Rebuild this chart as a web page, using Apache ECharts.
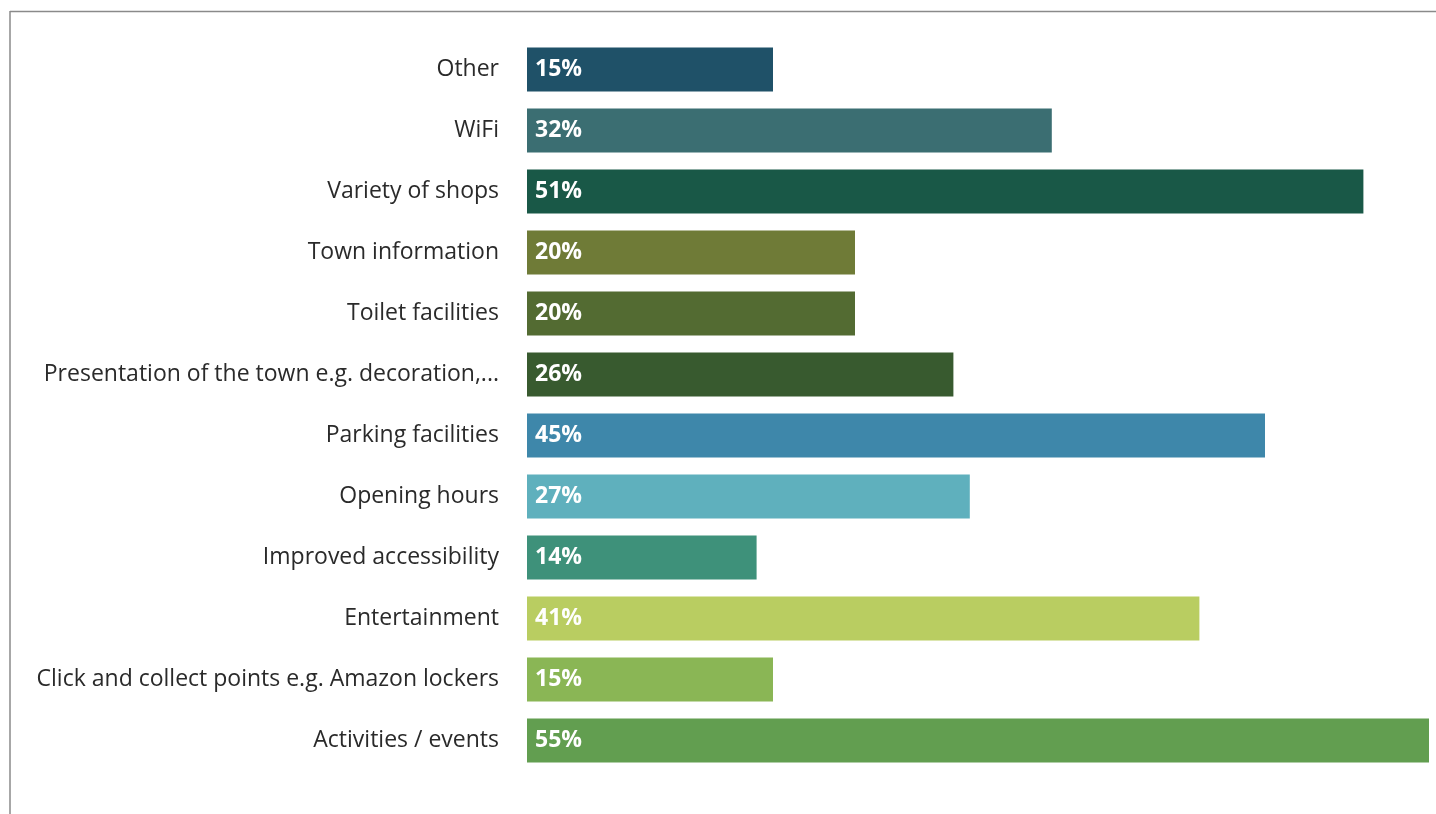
<!DOCTYPE html>
<html>
<head>
<meta charset="utf-8">
<style>
  html, body { margin: 0; padding: 0; background: #fff; }
  #chart { width: 1436px; height: 814px; }
</style>
<script src="https://cdn.jsdelivr.net/npm/echarts@6/dist/echarts.min.js"></script>
</head>
<body>
<div id="chart"></div>
<script>
// Improvements listed top to bottom
const categories = [
  'Other',
  'WiFi',
  'Variety of shops',
  'Town information',
  'Toilet facilities',
  'Presentation of the town e.g. decoration,...',
  'Parking facilities',
  'Opening hours',
  'Improved accessibility',
  'Entertainment',
  'Click and collect points e.g. Amazon lockers',
  'Activities / events'
];
const values = [15, 32, 51, 20, 20, 26, 45, 27, 14, 41, 15, 55];
const barColors = [
  '#1f5168', '#3b6e72', '#195847', '#6f7b37', '#536b32', '#385a2f',
  '#3e87aa', '#5fb0bd', '#3e917a', '#b9cd61', '#8ab655', '#629e50'
];

const chart = echarts.init(document.getElementById('chart'), null, { renderer: 'canvas' });

chart.setOption({
  backgroundColor: '#ffffff',
  animation: false,
  grid: { left: 527, right: 7, top: 39, bottom: 43, containLabel: false },
  xAxis: {
    type: 'value',
    min: 0,
    max: 55,
    show: false
  },
  yAxis: {
    type: 'category',
    data: categories,
    inverse: true,
    axisLine: { show: false },
    axisTick: { show: false },
    axisLabel: {
      margin: 28,
      fontFamily: 'Open Sans',
      fontSize: 23,
      color: '#2a2a2a'
    }
  },
  series: [{
    type: 'bar',
    barWidth: 44,
    data: values.map((v, i) => ({ value: v, itemStyle: { color: barColors[i] } })),
    label: {
      show: true,
      position: 'insideLeft',
      distance: 8,
      formatter: p => p.value + '%',
      fontFamily: 'Open Sans',
      fontWeight: 'bold',
      fontSize: 23,
      color: '#ffffff'
    }
  }],
  graphic: [
    { type: 'line', shape: { x1: 10, y1: 11.5, x2: 1436, y2: 11.5 }, style: { stroke: '#8a8a8a', lineWidth: 1.5 } },
    { type: 'line', shape: { x1: 10, y1: 11, x2: 10, y2: 814 }, style: { stroke: '#8a8a8a', lineWidth: 1.5 } }
  ]
});
</script>
</body>
</html>
